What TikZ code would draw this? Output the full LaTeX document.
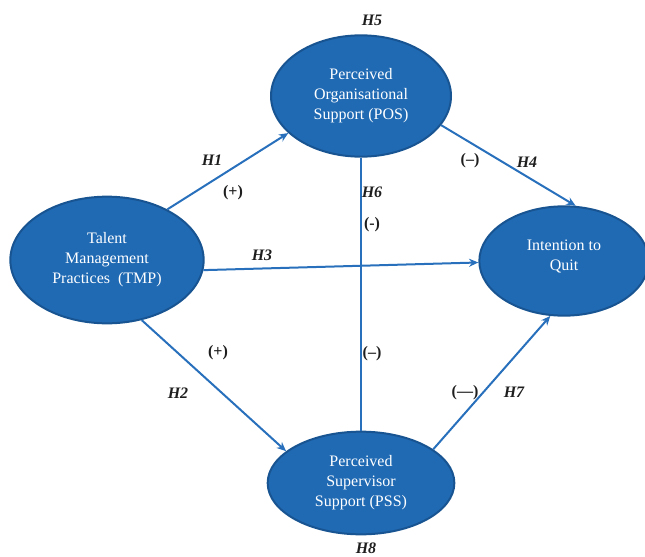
\documentclass[tikz,border=0pt]{standalone}
\usepackage{fontspec}
\setmainfont{Liberation Serif}
\usetikzlibrary{shapes.geometric,arrows.meta}
\definecolor{nodefill}{RGB}{32,106,180}
\definecolor{nodeedge}{RGB}{24,84,145}
\definecolor{linec}{RGB}{40,112,188}
\definecolor{labc}{RGB}{30,30,30}
\begin{document}
\begin{tikzpicture}[x=0.75pt,y=-0.75pt,
  cons/.style={ellipse,draw=nodeedge,line width=1.5pt,fill=nodefill,text=white,
     align=center,inner sep=0pt,font=\fontsize{12}{15}\selectfont},
  hyp/.style={font=\fontsize{12}{14}\selectfont\bfseries\itshape,text=labc},
  sgn/.style={font=\fontsize{12}{14}\selectfont\bfseries,text=labc},
  arr/.style={draw=linec,line width=1.5pt,-{Stealth[length=7pt,width=6pt]}},
  thin/.style={draw=linec,line width=1pt}]
\useasboundingbox (0,0) rectangle (645,556);
\node[cons,minimum width=135pt,minimum height=91pt] (pos) at (361,96) {Perceived\\Organisational\\Support (POS)};
\node[cons,minimum width=145pt,minimum height=95pt] (tmp) at (107,260) {Talent\\Management\\Practices~~(TMP)};
\node[cons,minimum width=127pt,minimum height=82pt] (iq) at (564,261) {Intention to\\Quit\\[-6pt]};
\node[cons,minimum width=140pt,minimum height=77pt] (pss) at (361,483) {Perceived\\Supervisor\\Support (PSS)};
\draw[arr] (tmp.40) -- (pos.207);
\draw[arr] (tmp.-6) -- (iq.181);
\draw[arr] (pos.-20) -- (iq.78);
\draw[arr] (tmp.-60) -- (pss.157);
\draw[thin] (pos.south) -- (pss.north);
\draw[arr] (pss.25) -- (iq.256);
\node[hyp] (h5) at (372,20) {H5};
\node[hyp] (h1) at (212,160) {H1};
\node[sgn] (s1) at (233,193) {(+)};
\node[hyp] (h6) at (372,192) {H6};
\node[sgn] (s6a) at (372,225) {(-)};
\node[hyp] (h3) at (262,255) {H3};
\node[sgn] (s4) at (470,161) {(–)};
\node[hyp] (h4) at (527,162) {H4};
\node[sgn] (s2) at (218,353) {(+)};
\node[hyp] (h2) at (178,393) {H2};
\node[sgn] (s6b) at (372,354) {(–)};
\node[sgn] (s7) at (465,393) {(—)};
\node[hyp] (h7) at (514,392) {H7};
\node[hyp] (h8) at (366,548) {H8};
\end{tikzpicture}
\end{document}
